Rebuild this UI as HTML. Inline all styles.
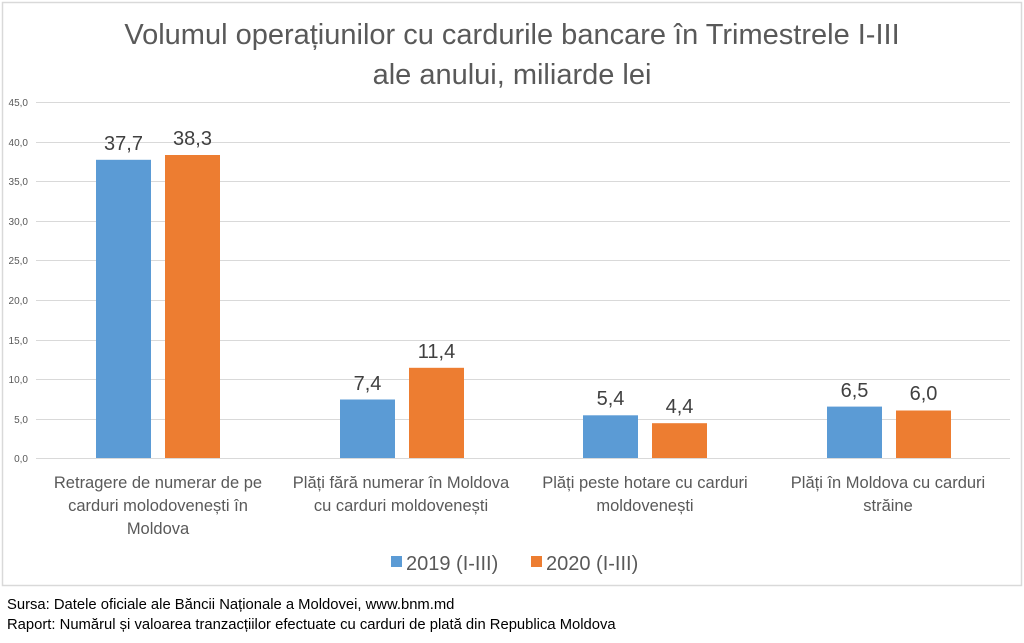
<!DOCTYPE html>
<html><head><meta charset="utf-8"><style>
body{margin:0;background:#fff;}
svg text{font-family:"Liberation Sans",sans-serif;}
</style></head><body>
<svg width="1024" height="638" viewBox="0 0 1024 638">
<rect x="0" y="0" width="1024" height="638" fill="#fff"/>
<rect x="2.5" y="2.5" width="1019" height="583" fill="#fff" stroke="#d9d9d9" stroke-width="1.5"/>
<g fill="#595959" font-size="29" text-anchor="middle">
<text x="512" y="44">Volumul operațiunilor cu cardurile bancare în Trimestrele I-III</text>
<text x="512" y="84">ale anului, miliarde lei</text>
</g>
<g stroke="#d9d9d9" stroke-width="1">
<line x1="36" x2="1010" y1="102.5" y2="102.5"/>
<line x1="36" x2="1010" y1="142.5" y2="142.5"/>
<line x1="36" x2="1010" y1="181.5" y2="181.5"/>
<line x1="36" x2="1010" y1="221.5" y2="221.5"/>
<line x1="36" x2="1010" y1="260.5" y2="260.5"/>
<line x1="36" x2="1010" y1="300.5" y2="300.5"/>
<line x1="36" x2="1010" y1="340.5" y2="340.5"/>
<line x1="36" x2="1010" y1="379.5" y2="379.5"/>
<line x1="36" x2="1010" y1="419.5" y2="419.5"/>
<line x1="36" x2="1010" y1="458.5" y2="458.5"/>
</g>
<g fill="#595959" font-size="10" text-anchor="end">
<text x="28" y="106">45,0</text><text x="28" y="146">40,0</text><text x="28" y="185">35,0</text>
<text x="28" y="225">30,0</text><text x="28" y="264">25,0</text><text x="28" y="304">20,0</text>
<text x="28" y="344">15,0</text><text x="28" y="383">10,0</text><text x="28" y="423">5,0</text>
<text x="28" y="462">0,0</text>
</g>
<g fill="#5b9bd5">
<rect x="96" y="159.8" width="55" height="298.2"/>
<rect x="340" y="399.5" width="55" height="58.5"/>
<rect x="583" y="415.3" width="55" height="42.7"/>
<rect x="827" y="406.6" width="55" height="51.4"/>
</g>
<g fill="#ed7d31">
<rect x="165" y="155" width="55" height="303"/>
<rect x="409" y="367.8" width="55" height="90.2"/>
<rect x="652" y="423.2" width="55" height="34.8"/>
<rect x="896" y="410.5" width="55" height="47.5"/>
</g>
<g fill="#404040" font-size="20" text-anchor="middle">
<text x="123.5" y="150">37,7</text><text x="192.5" y="145">38,3</text>
<text x="367.5" y="390">7,4</text><text x="436.5" y="358">11,4</text>
<text x="610.5" y="405">5,4</text><text x="679.5" y="413">4,4</text>
<text x="854.5" y="397">6,5</text><text x="923.5" y="400">6,0</text>
</g>
<g fill="#595959" font-size="16.5" text-anchor="middle">
<text x="158" y="488">Retragere de numerar de pe</text>
<text x="158" y="511">carduri molodovenești în</text>
<text x="158" y="534">Moldova</text>
<text x="401" y="488">Plăți fără numerar în Moldova</text>
<text x="401" y="511">cu carduri moldovenești</text>
<text x="645" y="488">Plăți peste hotare cu carduri</text>
<text x="645" y="511">moldovenești</text>
<text x="888" y="488">Plăți în Moldova cu carduri</text>
<text x="888" y="511">străine</text>
</g>
<rect x="391" y="556" width="11" height="11" fill="#5b9bd5"/>
<rect x="531" y="556" width="11" height="11" fill="#ed7d31"/>
<g fill="#595959" font-size="20">
<text x="406" y="570">2019 (I-III)</text>
<text x="546" y="570">2020 (I-III)</text>
</g>
<g fill="#000" font-size="14.8">
<text x="7" y="609">Sursa: Datele oficiale ale Băncii Naționale a Moldovei, www.bnm.md</text>
<text x="7" y="629">Raport: Numărul și valoarea tranzacțiilor efectuate cu carduri de plată din Republica Moldova</text>
</g>
</svg>
</body></html>
